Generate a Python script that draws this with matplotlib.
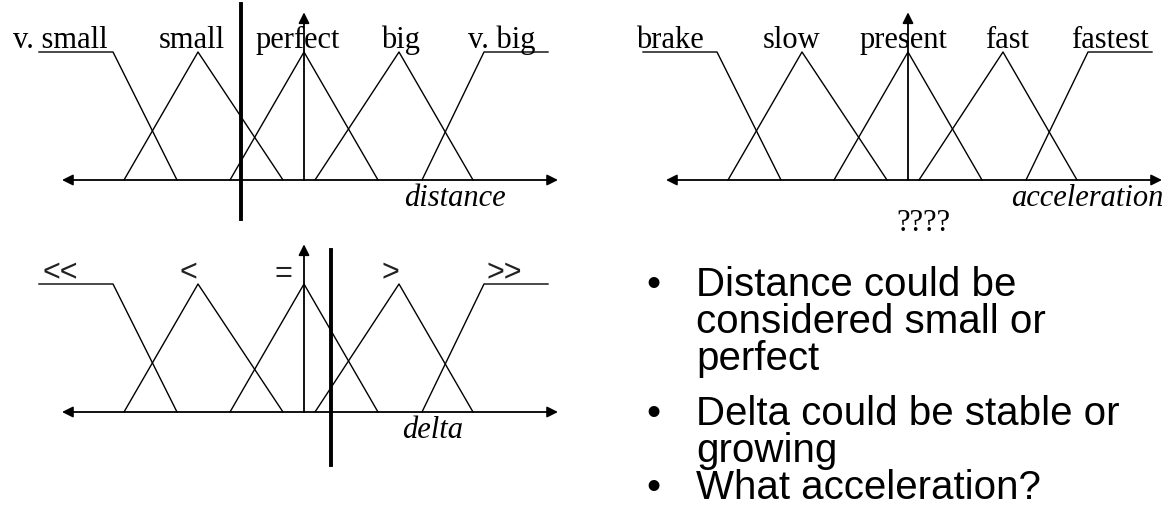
import matplotlib
matplotlib.use("Agg")
import matplotlib.pyplot as plt

# fuzzy sets: same triangle layout for all three variables
set_x = [[-2.65, -1.91, -1.27],
         [-1.80, -1.06, -0.21],
         [-0.74, 0.00, 0.74],
         [0.11, 0.95, 1.69],
         [1.18, 1.80, 2.44]]
set_y = [[1, 1, 0],
         [0, 1, 0],
         [0, 1, 0],
         [0, 1, 0],
         [0, 1, 1]]

distance_terms = ["v. small", "small", "perfect", "big", "v. big"]
distance_label_x = [-2.44, -1.12, -0.06, 0.97, 1.98]
acceleration_terms = ["brake", "slow", "present", "fast", "fastest"]
acceleration_label_x = [-2.38, -1.16, -0.05, 0.99, 2.02]
delta_terms = ["<<", "<", "=", ">", ">>"]
delta_label_x = [-2.44, -1.16, -0.21, 0.86, 2.0]

distance_input = -0.63
delta_input = 0.27

bullets = [["Distance could be", "considered small or", "perfect"],
           ["Delta could be stable or", "growing"],
           ["What acceleration?"]]

W, H = 1173, 508
fig = plt.figure(figsize=(W / 100, H / 100), dpi=100)

SERIF = "Liberation Serif"
SANS = "Liberation Sans"


def diagram(ox, oy, terms, label_x, name, name_x, label_font, label_y=1.03,
            label_va="baseline", label_color="black"):
    # axes placed so that one x unit = 100 px and one y unit = 128 px
    x0, x1, y0, y1 = -3.0, 2.7, -0.5, 1.4
    left = ox + x0 * 100
    top = oy - y1 * 128
    bottom = oy - y0 * 128
    ax = fig.add_axes([left / W, 1 - bottom / H, (x1 - x0) * 100 / W, (bottom - top) / H])
    ax.set_xlim(x0, x1)
    ax.set_ylim(y0, y1)
    ax.axis("off")
    for xs, ys in zip(set_x, set_y):
        ax.plot(xs, ys, color="black", lw=1.0, clip_on=False)
    ax.annotate("", xy=(2.54, 0), xytext=(-2.42, 0),
                arrowprops=dict(arrowstyle="<|-|>", color="black", lw=1.3,
                                mutation_scale=16, shrinkA=0, shrinkB=0))
    ax.annotate("", xy=(0, 1.31), xytext=(0, 0),
                arrowprops=dict(arrowstyle="-|>", color="black", lw=1.3,
                                mutation_scale=16, shrinkA=0, shrinkB=0))
    for t, lx in zip(terms, label_x):
        ax.text(lx, label_y, t, ha="center", va=label_va, fontsize=22,
                family=label_font, color=label_color)
    ax.text(name_x, -0.20, name, ha="center", va="baseline", fontsize=22,
            family=SERIF, style="italic")
    return ax


ax1 = diagram(304, 180, distance_terms, distance_label_x, "distance", 1.51, SERIF)
ax1.plot([distance_input, distance_input], [-0.305, 1.375], color="black", lw=2.8)

ax2 = diagram(908, 180, acceleration_terms, acceleration_label_x, "acceleration", 1.79, SERIF)
ax2.text(0.15, -0.40, "????", ha="center", va="baseline", fontsize=22, family=SERIF)

ax3 = diagram(304, 412, delta_terms, delta_label_x, "delta", 1.29, SANS,
              label_y=1.08, label_va="center", label_color="#222222")
ax3.plot([delta_input, delta_input], [-0.414, 1.266], color="black", lw=2.8)

# bullet list: baselines of first and last line, in pixels
first_baselines = [296, 425, 499]
last_baselines = [370, 462, 499]
for lines, yf, yl in zip(bullets, first_baselines, last_baselines):
    fig.text(653 / W, 1 - yf / H, "\u2022", ha="center", va="baseline",
             fontsize=29, family=SANS)
    fig.text(696 / W, 1 - yl / H, "\n".join(lines), ha="left", va="baseline",
             fontsize=29, family=SANS, linespacing=0.96)

fig.savefig("out.png", dpi=100)
